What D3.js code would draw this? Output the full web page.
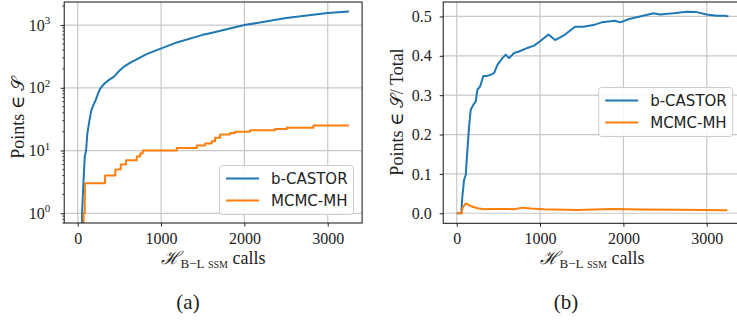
<!DOCTYPE html>
<html><head><meta charset="utf-8">
<script src="https://cdn.jsdelivr.net/npm/d3@7"></script>
<style>
body{margin:0;background:#fff;}
svg{display:block;}
text{font-family:"Liberation Serif","DejaVu Serif",serif;fill:#222;}
.leg{font-family:"DejaVu Sans",sans-serif;}
</style></head>
<body>
<svg id="c" width="737" height="325"></svg>
<script>
// ---- data ----
const xTicks = [0, 1000, 2000, 3000];
const logTicks = [1, 10, 100, 1000];
const logTickExp = ["0", "1", "2", "3"];
const fracTicks = [0.0, 0.1, 0.2, 0.3, 0.4, 0.5];
const seriesNames = ["b-CASTOR", "MCMC-MH"];
const colors = ["#1f77b4", "#ff7f0e"];

// (a) cumulative points in S (log scale)
const castorCallsA = [45, 52, 68, 84, 100, 116, 140, 164, 190, 216, 246, 276, 324, 380, 436, 496, 556, 626, 696, 820, 948, 1168, 1500, 1588, 2000, 2500, 3000, 3256];
const castorPointsA = [0, 1, 3, 8, 10, 19, 30, 44, 54, 64, 82, 100, 118, 135, 151, 185, 218, 250, 279, 340, 398, 516, 698, 741, 1000, 1290, 1550, 1640];
const mcmcCallsA = [64, 70, 84, 88, 328, 451, 516, 580, 708, 748, 780, 1188, 1428, 1528, 1608, 1648, 1708, 1828, 1888, 2068, 2368, 2508, 2828, 3256];
const mcmcPointsA = [0, 1, 2, 3, 4, 5, 6, 7, 8, 9, 10, 11, 12, 13, 14, 16, 18, 19, 20, 21, 22, 23, 25, 25];

// (b) fraction of points in S over total
const castorCallsB = [0, 55, 67, 88, 108, 128, 148, 168, 200, 228, 248, 280, 320, 368, 408, 448, 488, 548, 588, 628, 688, 748, 848, 928, 1000, 1100, 1180, 1300, 1420, 1520, 1640, 1740, 1900, 1960, 2080, 2200, 2360, 2440, 2600, 2760, 2880, 3000, 3120, 3220, 3260];
const castorFracB = [0, 0, 0.042, 0.085, 0.097, 0.161, 0.22, 0.263, 0.276, 0.284, 0.314, 0.322, 0.349, 0.349, 0.352, 0.356, 0.377, 0.394, 0.403, 0.394, 0.407, 0.411, 0.42, 0.426, 0.437, 0.454, 0.44, 0.454, 0.474, 0.474, 0.478, 0.485, 0.489, 0.485, 0.494, 0.5, 0.508, 0.505, 0.508, 0.512, 0.511, 0.505, 0.502, 0.502, 0.5];
const mcmcCallsB = [0, 60, 67, 108, 168, 248, 328, 408, 568, 688, 788, 888, 1048, 1448, 1848, 2248, 2648, 3248];
const mcmcFracB = [0, 0, 0.0127, 0.025, 0.0186, 0.0127, 0.0102, 0.011, 0.011, 0.0102, 0.0143, 0.012, 0.0102, 0.0085, 0.011, 0.0095, 0.0088, 0.0077];

const svg = d3.select("#c");
const xDomain = [-162.5, 3412.5];

function panel(opt) {
  const {left, right, top, bottom} = opt;
  const g = svg.append("g");
  const x = d3.scaleLinear().domain(xDomain).range([left, right]);
  const y = opt.y;
  const cid = "clip" + opt.id;
  svg.append("clipPath").attr("id", cid).append("rect")
    .attr("x", left).attr("y", top).attr("width", right - left).attr("height", bottom - top);

  // grid
  g.append("g").selectAll("line").data(xTicks).join("line")
    .attr("x1", d => x(d)).attr("x2", d => x(d)).attr("y1", top).attr("y2", bottom)
    .attr("stroke", "#c8c8c8").attr("stroke-width", 1.2);
  g.append("g").selectAll("line").data(opt.yTicks).join("line")
    .attr("x1", left).attr("x2", right).attr("y1", d => y(d)).attr("y2", d => y(d))
    .attr("stroke", "#c8c8c8").attr("stroke-width", 1.2);

  // lines
  const lg = g.append("g").attr("clip-path", `url(#${cid})`);
  opt.series.forEach((s, i) => {
    const pts = s.x.map((v, k) => [v, s.y[k]]);
    const line = d3.line().x(d => x(d[0])).y(d => opt.yv(d[1]));
    if (s.step) line.curve(d3.curveStepAfter);
    lg.append("path").datum(pts).attr("d", line)
      .attr("fill", "none").attr("stroke", colors[i]).attr("stroke-width", 2)
      .attr("stroke-linejoin", "round");
  });

  // axes
  const xa = g.append("g").attr("transform", `translate(0,${bottom})`)
    .call(d3.axisBottom(x).tickValues(xTicks).tickSize(3.5).tickPadding(6).tickFormat(d3.format("d")));
  xa.select(".domain").remove();
  xa.selectAll("text").attr("font-size", 16).attr("font-family", "Liberation Serif").attr("fill", "#222");
  xa.selectAll("line").attr("stroke", "#222");

  const ya = g.append("g").attr("transform", `translate(${left},0)`)
    .call(d3.axisLeft(y).tickValues(opt.yTicks).tickSize(3.5).tickPadding(opt.yPad).tickFormat(opt.fmt || (() => "")));
  ya.select(".domain").remove();
  ya.selectAll("line").attr("stroke", "#222");
  ya.selectAll("text").attr("font-size", 16).attr("font-family", "Liberation Serif").attr("fill", "#222");
  if (opt.minor) {
    g.append("g").selectAll("line").data(opt.minor).join("line")
      .attr("x1", left - 2).attr("x2", left).attr("y1", d => y(d)).attr("y2", d => y(d))
      .attr("stroke", "#222").attr("stroke-width", 0.8);
  }
  if (opt.logLabels) {
    const lab = g.append("g");
    opt.yTicks.forEach((t, k) => {
      const tx = lab.append("text").attr("x", left - 14).attr("y", y(t) + 5.5)
        .attr("text-anchor", "end").attr("font-size", 16);
      tx.append("tspan").text("10");
      tx.append("tspan").attr("dy", -6.5).attr("font-size", 11).text(logTickExp[k]);
    });
  }

  // spines
  g.append("rect").attr("x", left).attr("y", top).attr("width", right - left).attr("height", bottom - top)
    .attr("fill", "none").attr("stroke", "#111").attr("stroke-width", 1);

  // legend
  const L = opt.legend;
  const lgd = g.append("g");
  lgd.append("rect").attr("x", L.x).attr("y", L.y).attr("width", 134).attr("height", 49)
    .attr("rx", 3).attr("fill", "rgba(255,255,255,0.85)").attr("stroke", "#cccccc").attr("stroke-width", 1);
  seriesNames.forEach((n, i) => {
    const yy = L.y + 13 + i * 22;
    lgd.append("line").attr("x1", L.x + 6.5).attr("x2", L.x + 39.5).attr("y1", yy).attr("y2", yy)
      .attr("stroke", colors[i]).attr("stroke-width", 2);
    lgd.append("text").attr("class", "leg").attr("x", L.x + 51.5).attr("y", yy + 5.5)
      .attr("font-size", 15).attr("font-family", "DejaVu Sans").attr("fill", "#222").text(n);
  });

  // x label
  const xl = g.append("text").attr("x", opt.xlabX).attr("y", 264)
    .attr("text-anchor", "middle").attr("font-size", 18).attr("font-family", "Liberation Serif");
  xl.append("tspan").attr("font-family", "DejaVu Serif").attr("font-style", "italic").text("ℋ");
  xl.append("tspan").attr("dy", 4).attr("font-size", 13).attr("dx", 1).text("B−L");
  xl.append("tspan").attr("font-size", 10).attr("dx", 3.5).text("SSM");
  xl.append("tspan").attr("dy", -4).attr("dx", 4.5).attr("font-family", "Liberation Serif").text("calls");

  // y label
  const yl = g.append("text").attr("transform", `translate(${opt.ylabX},${opt.ylabY}) rotate(-90)`)
    .attr("text-anchor", "middle").attr("font-size", 18);
  yl.append("tspan").text("Points ∈ ");
  yl.append("tspan").text("𝒮");
  if (opt.ylabExtra) yl.append("tspan").text(opt.ylabExtra);

  // caption
  g.append("text").attr("x", opt.capX).attr("y", 309).attr("text-anchor", "middle")
    .attr("font-size", 21).text(opt.cap);
}

// (a)
const yA = d3.scaleLog().domain([0.7, 2330]).range([223, 2]);
const minorA = [];
[0.1, 1, 10, 100, 1000].forEach(dec => { for (let m = 2; m <= 9; m++) { const v = dec * m; if (v >= 0.7 && v <= 2330) minorA.push(v); } });
panel({
  id: "a", left: 64.2, right: 362.1, top: 2, bottom: 223, y: yA,
  yv: v => v <= 0 ? 260 : yA(v),
  yTicks: logTicks, minor: minorA, logLabels: true, yPad: 4,
  series: [{x: castorCallsA, y: castorPointsA}, {x: mcmcCallsA, y: mcmcPointsA, step: true}],
  legend: {x: 219.5, y: 165.5},
  xlabX: 213, ylabX: 24, ylabY: 118, capX: 188, cap: "(a)"
});

// (b)
const yB = d3.scaleLinear().domain([-0.0255, 0.5367]).range([223.3, 2]);
panel({
  id: "b", left: 443.2, right: 741.1, top: 2, bottom: 223.3, y: yB,
  yv: v => yB(v),
  yTicks: fracTicks, fmt: d3.format(".1f"), yPad: 8,
  series: [{x: castorCallsB, y: castorFracB}, {x: mcmcCallsB, y: mcmcFracB}],
  legend: {x: 598.7, y: 87.5},
  xlabX: 592, ylabX: 403, ylabY: 112, ylabExtra: "/ Total", capX: 566, cap: "(b)"
});
</script>
</body></html>
